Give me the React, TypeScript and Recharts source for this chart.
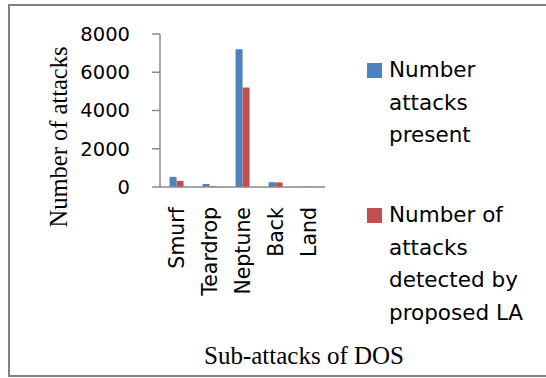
import { Bar, BarChart, XAxis, YAxis } from "recharts"

const categories = ["Smurf", "Teardrop", "Neptune", "Back", "Land"]
const attacksPresent = [530, 160, 7200, 250, 20]
const attacksDetected = [320, 40, 5200, 240, 15]
const yTicks = [0, 2000, 4000, 6000, 8000]
const seriesNames = ["Number attacks present", "Number of attacks detected by proposed LA"]
const seriesColors = ["#4F81BD", "#C0504D"]
const xTitle = "Sub-attacks of DOS"
const yTitle = "Number of attacks"

const data = categories.map((name, i) => ({
  name,
  present: attacksPresent[i],
  detected: attacksDetected[i],
}))

const sans = "'DejaVu Sans', sans-serif"
const serif = "'Liberation Serif', 'Times New Roman', serif"
const axisColor = "#888888"

const XTick = ({ x, y, payload }: any) => (
  <text
    x={x}
    y={y}
    transform={`rotate(-90, ${x}, ${y})`}
    textAnchor="end"
    dominantBaseline="central"
    fontFamily={sans}
    fontSize={20.5}
    fill="#000"
  >
    {payload.value}
  </text>
)

export default function App() {
  return (
    <div style={{ position: "absolute", left: 0, top: 0, width: 546, height: 378, overflow: "hidden", background: "#fff" }}>
      <div
        style={{
          position: "absolute",
          left: 8,
          top: 4,
          width: 600,
          height: 369,
          borderLeft: "2px solid #808080",
          borderTop: "2px solid #808080",
          borderBottom: "2px solid #808080",
        }}
      />
      <BarChart
        width={546}
        height={378}
        data={data}
        margin={{ top: 34, right: 221, bottom: 0, left: 0 }}
        barGap={0}
        barCategoryGap="29%"
        style={{ position: "absolute", left: 0, top: 0 }}
      >
        <XAxis
          dataKey="name"
          height={191}
          tickLine={false}
          tickSize={6}
          tickMargin={14}
          stroke={axisColor}
          strokeWidth={1.5}
          interval={0}
          tick={<XTick />}
          label={{
            content: () => (
              <text x={304} y={364} textAnchor="middle" fontFamily={serif} fontSize={25} fill="#000">
                {xTitle}
              </text>
            ),
          }}
        />
        <YAxis
          width={160}
          domain={[0, 8000]}
          ticks={yTicks}
          interval={0}
          tickSize={8}
          tickMargin={22}
          stroke={axisColor}
          strokeWidth={1.5}
          tick={{ fontFamily: sans, fontSize: 19.5, fill: "#000" }}
          label={{
            content: () => (
              <text
                x={67}
                y={137}
                transform="rotate(-90, 67, 137)"
                textAnchor="middle"
                fontFamily={serif}
                fontSize={24.5}
                fill="#000"
              >
                {yTitle}
              </text>
            ),
          }}
        />
        <Bar dataKey="present" name={seriesNames[0]} fill={seriesColors[0]} isAnimationActive={false} />
        <Bar dataKey="detected" name={seriesNames[1]} fill={seriesColors[1]} isAnimationActive={false} />
      </BarChart>
      <div style={{ position: "absolute", left: 367, top: 54, width: 172, fontFamily: sans, fontSize: 21.5, color: "#000" }}>
        {seriesNames.map((name, i) => (
          <div key={name} style={{ display: "flex", alignItems: "flex-start", marginBottom: 47.5 }}>
            <span
              style={{
                width: 15,
                height: 15,
                background: seriesColors[i],
                flex: "none",
                marginTop: 9,
                marginRight: 7,
              }}
            />
            <span style={{ width: 142, lineHeight: "32.5px" }}>{name}</span>
          </div>
        ))}
      </div>
    </div>
  )
}
